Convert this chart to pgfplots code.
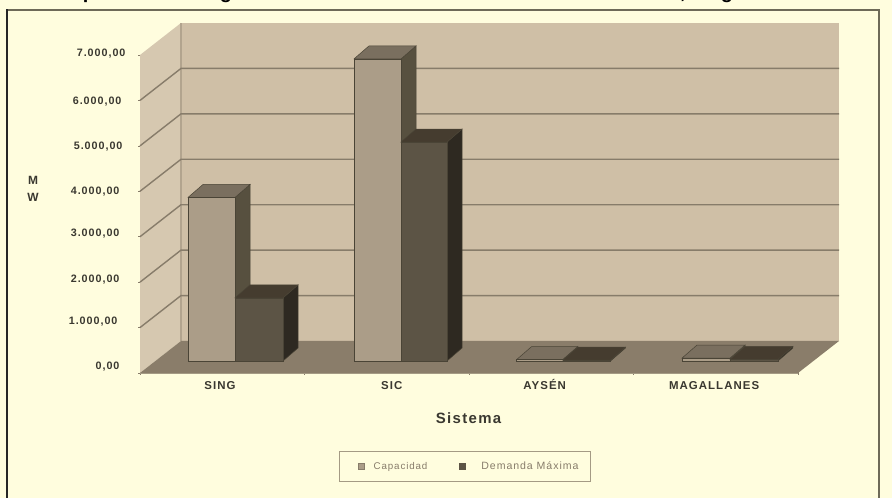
\documentclass[border=0pt]{standalone}
\usepackage{pgfplots}
\pgfplotsset{compat=1.18}
\usepackage{fontspec}
\setmainfont{Liberation Sans}
\newfontfamily\lab[LetterSpace=9]{Liberation Sans}
\definecolor{paper}{HTML}{FFFDDE}
\definecolor{frameln}{HTML}{6E6A58}
\definecolor{backwall}{HTML}{CFBFA6}
\definecolor{sidewall}{HTML}{D6C8B0}
\definecolor{floorc}{HTML}{8A7D6A}
\definecolor{gridc}{HTML}{877C6A}
\definecolor{capF}{HTML}{AB9D88}
\definecolor{capT}{HTML}{7A6F5F}
\definecolor{capS}{HTML}{57503F}
\definecolor{demF}{HTML}{5C5445}
\definecolor{demT}{HTML}{453C2F}
\definecolor{demS}{HTML}{2E2921}
\definecolor{edge}{HTML}{4A4436}
\definecolor{axisc}{HTML}{A49A84}
\definecolor{txt}{HTML}{3A3830}

% one box of the column chart: x from, x to, MW, front, top and side colours
\newcommand{\prism}[6]{%
  \pgfmathsetmacro\xa{#1}\pgfmathsetmacro\xb{#2}%
  \pgfmathsetmacro\xc{#1+0.0912}\pgfmathsetmacro\xd{#2+0.0912}%
  \pgfmathsetmacro\ya{264}\pgfmathsetmacro\yb{264+#3}%
  \pgfmathsetmacro\yc{264+286}\pgfmathsetmacro\yd{264+#3+286}%
  \addplot[forget plot,fill=#6,draw=edge,line width=0.5bp] coordinates {(\xb,\ya)(\xd,\yc)(\xd,\yd)(\xb,\yb)} --cycle;
  \addplot[forget plot,fill=#5,draw=edge,line width=0.5bp] coordinates {(\xa,\yb)(\xb,\yb)(\xd,\yd)(\xc,\yd)} --cycle;
  \addplot[forget plot,fill=#4,draw=edge,line width=0.5bp] coordinates {(\xa,\ya)(\xb,\ya)(\xb,\yb)(\xa,\yb)} --cycle;
}
% a value line running along the side wall and then the back wall
\newcommand{\wallline}[1]{%
  \pgfmathsetmacro\yy{#1+704.4}%
  \addplot[forget plot,draw=gridc,line width=1.4bp] coordinates {(0,#1)(0.2492,\yy)(4.2492,\yy)};
}
\newcommand{\yl}[3]{\raisebox{#1bp}{#3\hspace{#2bp}}}

\begin{document}
\begin{tikzpicture}[x=1bp,y=1bp]
\useasboundingbox (0,0) rectangle (892,498);
\clip (0,0) rectangle (892,498);
\fill[paper] (0,0) rectangle (892,498);
% outer frame of the chart, open at the foot of the page
\draw[frameln,line width=1.5bp] (7,488) -- (879,488) -- (879,-5);
\draw[black!85,line width=1.8bp] (7,-5) -- (7,488.7);
% the heading sits above the page edge, only its descenders show
\node[anchor=base,font=\bfseries\fontsize{20}{20}\selectfont,inner sep=0] at (89,499) {p};
\node[anchor=base,font=\bfseries\fontsize{20}{20}\selectfont,inner sep=0] at (226,499) {g};
\node[anchor=base,font=\bfseries\fontsize{20}{20}\selectfont,inner sep=0] at (683,499) {,};
\node[anchor=base,font=\bfseries\fontsize{20}{20}\selectfont,inner sep=0] at (727,499) {g};
\begin{axis}[
  at={(140bp,125bp)},anchor=south west,
  scale only axis,width=658bp,height=318bp,
  xmin=0,xmax=4,ymin=0,ymax=7000,
  clip=false,
  axis x line=bottom,axis y line=left,
  axis line style={axisc,line width=0.8bp,-},
  tick style={color=gridc,line width=0.7bp},
  xtick={0.486,1.53,2.46,3.49},
  xticklabels={SING,SIC,AYSÉN,MAGALLANES},
  major x tick style={draw=none},
  minor xtick={0,1,2,3,4},
  minor tick length=4bp,
  xticklabel style={font=\lab\bfseries\fontsize{11.5}{11.5}\selectfont,text=txt,yshift=-3bp,text height=8bp,text depth=0bp},
  ytick={0,1000,2000,3000,4000,5000,6000,7000},
  yticklabels={\yl{3}{0}{0,00},\yl{3}{2}{1.000,00},\yl{0}{0}{2.000,00},\yl{0}{0}{3.000,00},\yl{-3}{0}{4.000,00},\yl{-4}{-3}{5.000,00},\yl{-4}{-2}{6.000,00},\yl{-2}{-6}{7.000,00}},
  major tick length=4bp,
  yticklabel style={font=\lab\bfseries\fontsize{10.8}{10.8}\selectfont,text=txt,anchor=base east,xshift=-15bp},
  xlabel={\lab\bfseries Sistema},
  xlabel style={at={(axis cs:1.997,-990)},anchor=center,font=\fontsize{15}{15}\selectfont,text=txt},
  ylabel={M\\W},
  ylabel style={at={(axis cs:-0.65,4060)},anchor=center,rotate=-90,align=center,font=\bfseries\fontsize{12}{17}\selectfont,text=txt},
  legend columns=2,
  legend style={at={(axis cs:1.976,-2058)},anchor=center,draw=axisc,line width=0.9bp,fill=paper,
    font=\lab\fontsize{9.8}{9.8}\selectfont,text=gridc,inner xsep=19bp,inner ysep=8.5bp,
    /tikz/column 1/.style={column sep=7bp},
    /tikz/column 2/.style={column sep=30bp},
    /tikz/column 3/.style={column sep=14bp}},
]
\addlegendimage{only marks,mark=square*,mark size=3bp,mark options={fill=capF,draw=gridc}}
\addlegendentry{Capacidad}
\addlegendimage{only marks,mark=square*,mark size=3bp,mark options={fill=demF,draw=demF}}
\addlegendentry{\fontsize{10.6}{10.6}\selectfont Demanda Máxima\hspace*{-9bp}}
% side wall, back wall and floor of the chart box
\addplot[forget plot,fill=sidewall,draw=none] coordinates {(0,0)(0.2492,704.4)(0.2492,7704.4)(0,7000)} --cycle;
\addplot[forget plot,fill=backwall,draw=none] coordinates {(0.2492,704.4)(4.2492,704.4)(4.2492,7704.4)(0.2492,7704.4)} --cycle;
\addplot[forget plot,draw=gridc!40!backwall,line width=1.2bp] coordinates {(0.2492,704.4)(0.2492,7704.4)};
\wallline{1000}\wallline{2000}\wallline{3000}\wallline{4000}\wallline{5000}\wallline{6000}
\addplot[forget plot,fill=floorc,draw=none] coordinates {(0,0)(4,0)(4.2492,704.4)(0.2492,704.4)} --cycle;
% SING
\prism{0.2918}{0.5775}{3600}{capF}{capT}{capS}
\prism{0.5775}{0.8693}{1390}{demF}{demT}{demS}
% SIC
\prism{1.3009}{1.5866}{6650}{capF}{capT}{capS}
\prism{1.5866}{1.8663}{4820}{demF}{demT}{demS}
% AYSÉN
\prism{2.29}{2.57}{33}{capF}{capT}{capS}
\prism{2.57}{2.86}{19}{demF}{demT}{demS}
% MAGALLANES
\prism{3.295}{3.587}{65}{capF}{capT}{capS}
\prism{3.587}{3.878}{36}{demF}{demT}{demS}
\end{axis}
\end{tikzpicture}
\end{document}
